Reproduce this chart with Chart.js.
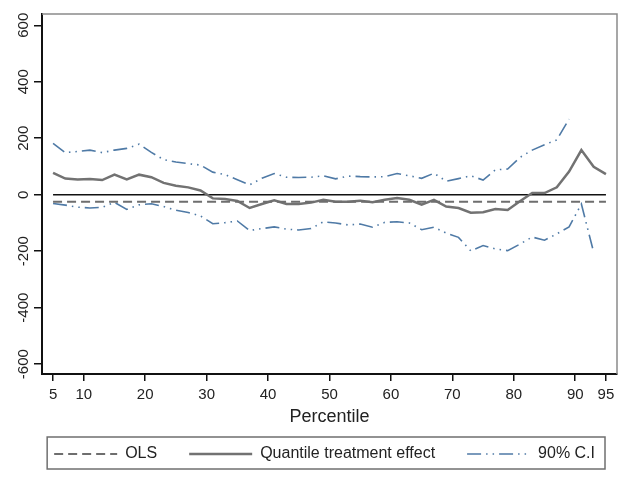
<!DOCTYPE html>
<html><head><meta charset="utf-8">
<script src="https://cdn.jsdelivr.net/npm/chart.js@4/dist/chart.umd.min.js"></script>
<style>html,body{margin:0;padding:0;background:#fff;}canvas{display:block;}</style>
</head><body>
<canvas id="c" width="627" height="481"></canvas>
<script>
const percentiles = [5,7,9,11,13,15,17,19,21,23,25,27,29,31,33,35,37,39,41,43,45,47,49,51,53,55,57,59,61,63,65,67,69,71,73,75,77,79,81,83,85,87,89,91,93,95];
const qte = [77,57,54,56,52,71,54,71,62,42,32,26,15,-13,-15,-22,-47,-33,-20,-33,-33,-28,-18,-25,-25,-21,-27,-18,-12,-18,-35,-18,-42,-47,-64,-62,-51,-54,-23,6,6,26,82,158,99,73];
const ciUpper = [182,149,153,158,149,158,164,179,150,124,116,110,105,80,71,53,35,58,75,62,61,62,67,56,66,64,63,64,75,67,58,76,48,57,67,52,88,91,132,158,177,194,268,null,null,null];
const ciLower = [-31,-37,-44,-47,-45,-27,-52,-36,-32,-42,-55,-63,-75,-103,-99,-93,-127,-120,-114,-122,-125,-120,-96,-100,-107,-104,-115,-98,-96,-100,-124,-115,-136,-151,-199,-180,-192,-198,-175,-150,-161,-139,-114,-33,-204,null];
const lineEnds = [5,95];
const olsValues = [-25,-25];
const zeroValues = [0,0];
const xTicks = [5,10,20,30,40,50,60,70,80,90,95];
const yTicks = [-600,-400,-200,0,200,400,600];
const xLabel = 'Percentile';
const seriesNames = ['OLS','Quantile treatment effect','90% C.I'];

const FONT = "'Liberation Sans', Arial, sans-serif";
Chart.defaults.font.family = FONT;
Chart.defaults.color = '#222';

const pts = (xs, ys) => xs.map((x,i)=>({x:x, y:ys[i]}));
const ciColor = '#4f7aa6';
const ciDash = [14,5,1.5,5,1.5,5];

const framePlugin = {
  id:'frame',
  afterDraw(chart){
    const {ctx, chartArea:a} = chart;
    ctx.save();
    ctx.strokeStyle = '#8a8a8a'; ctx.lineWidth = 1.5; ctx.setLineDash([]);
    ctx.beginPath(); ctx.moveTo(a.left, a.top); ctx.lineTo(a.right, a.top); ctx.lineTo(a.right, a.bottom); ctx.stroke();
    const hb = chart.legend && chart.legend.legendHitBoxes;
    if (hb && hb.length){
      const l = Math.min(...hb.map(h=>h.left)) - 7;
      const r = Math.max(...hb.map(h=>h.left+h.width)) + 10;
      const t = hb[0].top - 9, b = hb[0].top + hb[0].height + 7;
      ctx.strokeStyle = '#6f6f6f'; ctx.lineWidth = 1.5;
      ctx.strokeRect(l, t, r-l, b-t);
    }
    ctx.restore();
  }
};

new Chart(document.getElementById('c'), {
  type:'line',
  data:{datasets:[
    {label:seriesNames[0], data:pts(lineEnds, olsValues), borderColor:'#6e6e6e', borderWidth:2, borderDash:[9,5], pointRadius:0, tension:0},
    {label:seriesNames[1], data:pts(percentiles, qte), borderColor:'#727272', borderWidth:2.5, pointRadius:0, tension:0},
    {label:seriesNames[2], data:pts(percentiles, ciUpper), borderColor:ciColor, borderWidth:1.6, borderDash:ciDash, pointRadius:0, tension:0, spanGaps:false},
    {label:seriesNames[2], data:pts(percentiles, ciLower), borderColor:ciColor, borderWidth:1.6, borderDash:ciDash, pointRadius:0, tension:0, spanGaps:false},
    {label:'zero', data:pts(lineEnds, zeroValues), borderColor:'#111', borderWidth:1.6, pointRadius:0}
  ]},
  options:{
    responsive:false, animation:false, devicePixelRatio:1,
    layout:{padding:{top:14, right:0, left:10, bottom:13}},
    plugins:{
      tooltip:{enabled:false},
      legend:{
        position:'bottom', align:'end', maxHeight:54,
        labels:{
          usePointStyle:true, pointStyle:'line', pointStyleWidth:63, padding:32,
          font:{size:16, family:FONT}, color:'#222',
          generateLabels:(chart)=>{
            const items = Chart.defaults.plugins.legend.labels.generateLabels(chart);
            return items.filter(it=>it.datasetIndex < 3).map(it=>{
              const ds = chart.data.datasets[it.datasetIndex];
              it.lineDash = ds.borderDash || [];
              it.lineWidth = ds.borderWidth;
              it.strokeStyle = ds.borderColor;
              it.pointStyle = 'line';
              return it;
            });
          }
        }
      }
    },
    scales:{
      x:{type:'linear', min:3.2, max:96.8,
        afterBuildTicks:s=>{s.ticks = xTicks.map(v=>({value:v}));},
        afterFit:s=>{s.height = 40;},
        ticks:{font:{size:15}, color:'#222', padding:5, maxRotation:0, autoSkip:false},
        grid:{drawOnChartArea:false, drawTicks:true, tickLength:7, tickColor:'#111', lineWidth:1.5},
        border:{color:'#111', width:2},
        title:{display:true, text:xLabel, font:{size:18}, color:'#222', padding:{top:0, bottom:-14}}
      },
      y:{type:'linear', min:-635, max:640,
        afterBuildTicks:s=>{s.ticks = yTicks.map(v=>({value:v}));},
        afterFit:s=>{s.width = 32;},
        ticks:{font:{size:15}, color:'#222', minRotation:90, maxRotation:90, crossAlign:'center', padding:-5, autoSkip:false},
        grid:{drawOnChartArea:false, drawTicks:true, tickLength:8, tickColor:'#111', lineWidth:1.5},
        border:{color:'#111', width:2}
      },
      yRight:{type:'linear', position:'right', display:true,
        afterFit:s=>{s.width = 10;},
        ticks:{display:false}, grid:{display:false, drawTicks:false}, border:{display:false}
      }
    }
  },
  plugins:[framePlugin]
});
</script>
</body></html>
